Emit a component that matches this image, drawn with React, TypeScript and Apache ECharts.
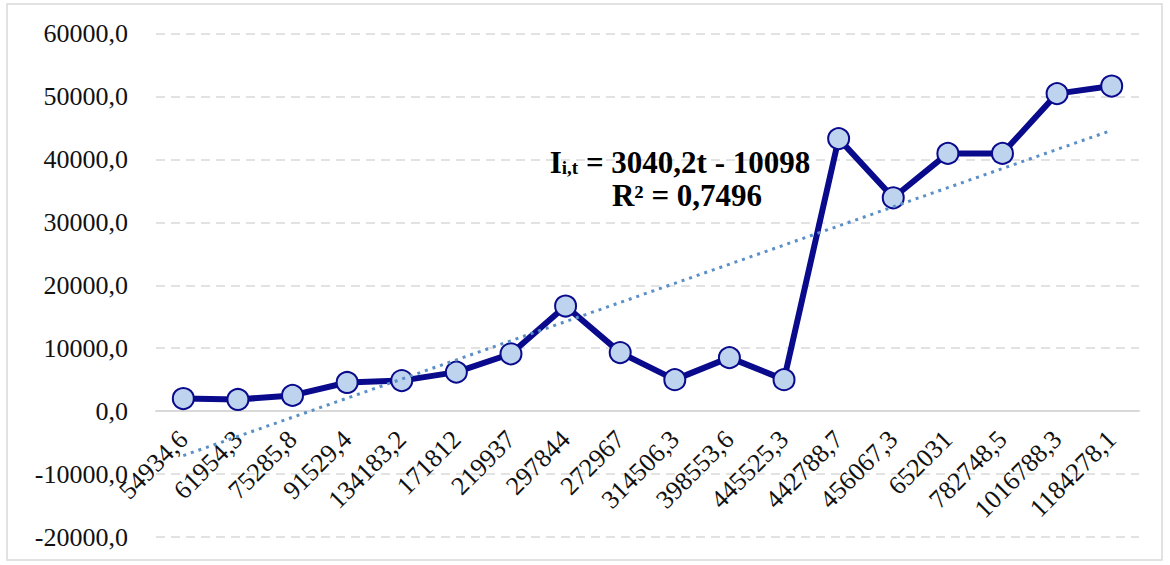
import React, { useEffect, useRef } from "react";
import * as echarts from "echarts";

const categories = [
  "54934,6", "61954,3", "75285,8", "91529,4", "134183,2", "171812", "219937", "297844",
  "272967", "314506,3", "398553,6", "445525,3", "442788,7", "456067,3", "652031",
  "782748,5", "1016788,3", "1184278,1",
];
const values = [
  2000, 1850, 2500, 4550, 4850, 6200, 9100, 16700, 9300, 5000, 8500, 5000,
  43300, 33900, 40950, 40950, 50450, 51650,
];
// trend line end points (t = 1 and t = 18)
const trendStart = -7058;
const trendEnd = 44626;
const yTicks = { min: -20000, max: 60000, interval: 10000 };
const equationText = "3040,2t - 10098";
const r2Text = "R² = 0,7496";

const FONT = "Liberation Serif";

export default function App() {
  const ref = useRef<HTMLDivElement>(null);
  useEffect(() => {
    if (!ref.current) return;
    const chart = echarts.init(ref.current, undefined, { renderer: "svg" });
    const trendData: (number | null)[] = categories.map(() => null);
    trendData[0] = trendStart;
    trendData[categories.length - 1] = trendEnd;
    const top = 33.5;
    const bottom = 28;
    const plotH = 565 - top - bottom;
    const zeroOffset = (plotH * (0 - yTicks.min)) / (yTicks.max - yTicks.min);
    const labelRich = { v: { fontFamily: FONT, fontSize: 26, color: "#111" } };
    chart.setOption({
      animation: false,
      backgroundColor: "#ffffff",
      textStyle: { fontFamily: FONT },
      grid: {
        left: 156,
        right: 31,
        top,
        bottom,
        containLabel: false,
        outerBoundsMode: "none",
      },
      xAxis: {
        type: "category",
        data: categories,
        boundaryGap: true,
        offset: -zeroOffset,
        axisLine: { onZero: false, lineStyle: { color: "#d9d9d9", width: 2 } },
        axisTick: { show: false },
        axisLabel: {
          interval: 0,
          rotate: 45,
          margin: 24,
          fontFamily: FONT,
          fontSize: 26,
          color: "#111",
          formatter: (v: string) => "{v|" + v + "}",
          rich: labelRich,
        },
        splitLine: { show: false },
      },
      yAxis: {
        type: "value",
        min: yTicks.min,
        max: yTicks.max,
        interval: yTicks.interval,
        axisLine: { show: false },
        axisTick: { show: false },
        axisLabel: {
          margin: 28,
          fontFamily: FONT,
          fontSize: 26,
          color: "#111",
          formatter: (v: number) => "{v|" + v.toFixed(1).replace(".", ",") + "}",
          rich: labelRich,
        },
        splitLine: { show: true, lineStyle: { color: "#d9d9d9", width: 1.5, type: [9, 6] } },
      },
      series: [
        {
          type: "line",
          data: values,
          z: 3,
          lineStyle: { color: "#0a0a8c", width: 6 },
          symbol: "circle",
          symbolSize: 21,
          itemStyle: { color: "#bdd3ee", borderColor: "#0a0a8c", borderWidth: 2 },
        },
        {
          type: "line",
          data: trendData,
          connectNulls: true,
          z: 4,
          symbol: "none",
          lineStyle: { color: "#5b8fc8", width: 3, type: [3, 5] },
        },
      ],
      graphic: [
        {
          type: "rect",
          shape: { x: 7, y: 4, width: 1155, height: 556 },
          style: { fill: "none", stroke: "#d9d9d9", lineWidth: 1.5 },
          silent: true,
        },
        {
          type: "text",
          x: 680,
          y: 162,
          z: 10,
          style: {
            text: "{a|I}{s|i,t}{a| = " + equationText + "}",
            align: "center",
            verticalAlign: "middle",
            rich: {
              a: {
                fontFamily: FONT,
                fontWeight: "bold",
                fontSize: 31,
                lineHeight: 30,
                verticalAlign: "middle",
                fill: "#000",
                color: "#000",
              },
              s: {
                fontFamily: FONT,
                fontWeight: "bold",
                fontSize: 19,
                lineHeight: 30,
                verticalAlign: "top",
                padding: [11, 0, 0, 0],
                fill: "#000",
                color: "#000",
              },
            },
          },
        },
        {
          type: "text",
          x: 687,
          y: 195,
          z: 10,
          style: {
            text: r2Text,
            align: "center",
            verticalAlign: "middle",
            font: "bold 31px " + FONT,
            fill: "#000",
          },
        },
      ],
    });
    return () => chart.dispose();
  }, []);
  return (
    <div
      ref={ref}
      style={{ position: "fixed", left: 0, top: 0, width: 1170, height: 565 }}
    />
  );
}
